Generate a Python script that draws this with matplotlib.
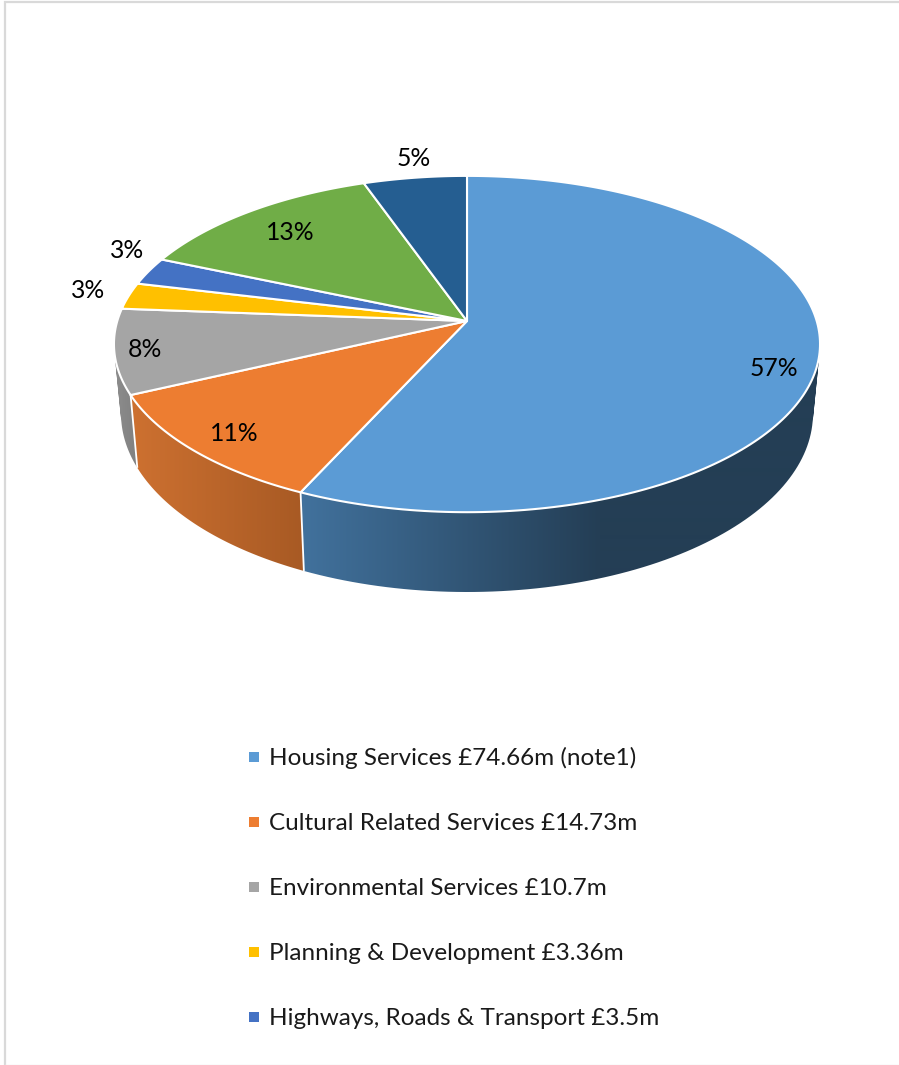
import numpy as np
import matplotlib
matplotlib.use('Agg')
import matplotlib.pyplot as plt
from matplotlib.colors import to_rgb
from matplotlib.patches import PathPatch, Polygon, Rectangle
from matplotlib.path import Path

# ================== DATA ==================

SERVICES = ['Housing Services', 'Cultural Related Services', 'Environmental Services',
            'Planning & Development', 'Highways, Roads & Transport', 'Other services', 'Other income']
VALUES = [74.66, 14.73, 10.7, 3.36, 3.5, 17.3, 7.1]
LEGEND_TEXT = ['Housing Services £74.66m (note1)', 'Cultural Related Services £14.73m',
               'Environmental Services £10.7m', 'Planning & Development £3.36m',
               'Highways, Roads & Transport £3.5m']

# ================== STYLE ==================

COLORS = ['#5B9BD5', '#ED7D31', '#A5A5A5', '#FFC000', '#4472C4', '#70AD47', '#255E91']
# side colour at the left and right end of the gradient (x range in px)
SIDE_GRAD = {
    0: ('#41719C', '#243E55', 305, 600),
    1: ('#CC7030', '#A85A24', 137, 302),
    2: ('#8C8C8C', '#808080', 116, 137),
}
# label centre x, baseline y
LABEL_POS = [(774, 376), (234, 441), (145, 357), (88, 298), (127, 258), (290, 240), (414, 166)]
LEGEND_Y = [757, 822, 887, 952, 1017]

CX, CY = 467, 321   # where the slices meet
A, B, K = 349.7, 165.0, 0.137   # perspective of the pie top
SCALE_X, SCALE_Y, BOTTOM_Y = 0.98, 1.06, 592   # pie bottom relative to the top

plt.rcParams['font.family'] = ['Lato', 'DejaVu Sans']


def top_xy(angle):
    # angle in radians, clockwise from 12 o'clock
    u, v = np.sin(angle), -np.cos(angle)
    w = 1 - K * v
    return CX + A * u / w, CY + B * v / w


def bottom_xy(angle):
    x, y = top_xy(angle)
    return CX + SCALE_X * (x - CX), BOTTOM_Y + SCALE_Y * (y - (CY + B / (1 - K)))


def side_path(t1, t2):
    # the side of one slice as many quads, all wound the same way
    ts = np.linspace(t1, t2, 160)
    xt, yt = top_xy(ts)
    xb, yb = bottom_xy(ts)
    verts, codes = [], []
    for j in range(len(ts) - 1):
        quad = [(xt[j], yt[j]), (xt[j + 1], yt[j + 1]), (xb[j + 1], yb[j + 1]), (xb[j], yb[j])]
        x, y = np.array(quad).T
        if np.dot(x, np.roll(y, -1)) - np.dot(y, np.roll(x, -1)) < 0:
            quad = quad[::-1]
        verts += quad + [quad[0]]
        codes += [Path.MOVETO, Path.LINETO, Path.LINETO, Path.LINETO, Path.CLOSEPOLY]
    return Path(verts, codes)


def main():
    fig = plt.figure(figsize=(8.99, 10.65), dpi=100)
    ax = fig.add_axes([0, 0, 1, 1])

    # chart frame, only partly inside the crop
    ax.plot([5, 5, 899], [1065, 2, 2], color='#D9D9D9', lw=1.6, solid_joinstyle='miter')
    ax.plot([5, 899], [1064.5, 1064.5], color='#EEEEEE', lw=1)

    edges = np.cumsum([0] + VALUES) / sum(VALUES) * 2 * np.pi

    # sides first, the top covers whatever is at the back
    for i in range(len(VALUES)):
        path = side_path(edges[i], edges[i + 1])
        if i in SIDE_GRAD:
            c1, c2, x1, x2 = SIDE_GRAD[i]
            t = np.clip((np.arange(0, 899) - x1) / (x2 - x1), 0, 1)[None, :, None]
            img = (1 - t) * np.array(to_rgb(c1)) + t * np.array(to_rgb(c2))
            im = ax.imshow(img, extent=(0, 899, 1065, 0), aspect='auto', zorder=2,
                           interpolation='bilinear')
            im.set_clip_path(PathPatch(path, transform=ax.transData))
        else:
            col = tuple(0.75 * c for c in to_rgb(COLORS[i]))
            ax.add_patch(PathPatch(path, facecolor=col, edgecolor='none', zorder=2))

    for e in edges[:-1]:
        xt, yt = top_xy(e)
        xb, yb = bottom_xy(e)
        ax.plot([xt, xb], [yt, yb], color='white', lw=1.3, zorder=3, solid_capstyle='butt')

    # top of the pie
    for i in range(len(VALUES)):
        ts = np.linspace(edges[i], edges[i + 1], 200)
        xt, yt = top_xy(ts)
        pts = np.column_stack([np.r_[CX, xt], np.r_[CY, yt]])
        ax.add_patch(Polygon(pts, facecolor=COLORS[i], edgecolor='white', lw=1.5,
                             joinstyle='round', zorder=4))

    for i, v in enumerate(VALUES):
        x, y = LABEL_POS[i]
        ax.text(x, y, f'{round(v / sum(VALUES) * 100)}%', ha='center', va='baseline',
                fontsize=17.8, color='black', zorder=5)

    for i, text in enumerate(LEGEND_TEXT):
        y = LEGEND_Y[i]
        ax.add_patch(Rectangle((249, y - 5), 10, 10, facecolor=COLORS[i], edgecolor='none'))
        ax.text(269, y + 8, text, ha='left', va='baseline', fontsize=17.45, color='#1a1a1a')

    ax.set_xlim(0, 899)
    ax.set_ylim(1065, 0)
    ax.axis('off')

    fig.savefig('out.png', dpi=100)
    plt.close(fig)


if __name__ == '__main__':
    main()
